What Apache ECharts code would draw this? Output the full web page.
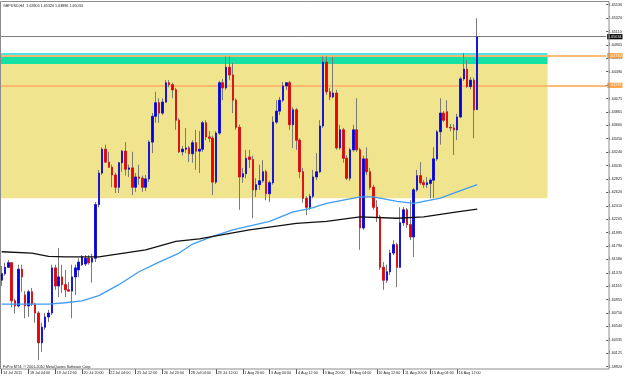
<!DOCTYPE html>
<html><head><meta charset="utf-8">
<script src="https://cdn.jsdelivr.net/npm/echarts@6/dist/echarts.min.js"></script>
<style>html,body{margin:0;padding:0;background:#fff}#c{width:625px;height:377px}</style>
</head><body><div id="c"></div>
<script>
const symbolName = 'GBPUSD,H4';
const opens = [1.6126,1.6136,1.6146,1.6153,1.6094,1.6086,1.6143,1.6103,1.6086,1.6108,
1.6089,1.6075,1.6029,1.6053,1.6069,1.6075,1.6145,1.6117,1.6131,1.6119,
1.6111,1.6109,1.6131,1.6142,1.6150,1.6151,1.6160,1.6154,1.6160,1.6243,
1.6292,1.6329,1.6309,1.6301,1.6289,1.6270,1.6308,1.6326,1.6298,1.6300,
1.6270,1.6286,1.6284,1.6270,1.6283,1.6340,1.6380,1.6401,1.6385,1.6402,
1.6432,1.6429,1.6421,1.6374,1.6325,1.6329,1.6331,1.6322,1.6339,1.6326,
1.6329,1.6370,1.6348,1.6346,1.6278,1.6354,1.6432,1.6424,1.6456,1.6444,
1.6405,1.6363,1.6286,1.6291,1.6317,1.6313,1.6266,1.6274,1.6280,1.6294,
1.6260,1.6277,1.6371,1.6388,1.6405,1.6427,1.6432,1.6367,1.6390,1.6343,
1.6294,1.6253,1.6239,1.6256,1.6286,1.6294,1.6365,1.6464,1.6418,1.6410,
1.6416,1.6331,1.6359,1.6315,1.6284,1.6328,1.6359,1.6328,1.6207,1.6314,
1.6294,1.6270,1.6239,1.6224,1.6146,1.6126,1.6139,1.6168,1.6181,1.6146,
1.6215,1.6235,1.6212,1.6193,1.6266,1.6288,1.6277,1.6274,1.6276,1.6281,
1.6314,1.6356,1.6385,1.6387,1.6363,1.6362,1.6359,1.6379,1.6438,1.6453,
1.6426,1.6436,1.63905];
const highs = [1.6148,1.6153,1.6157,1.6154,1.6097,1.6150,1.6150,1.6109,1.6111,1.6114,
1.6091,1.6078,1.6060,1.6075,1.6080,1.6150,1.6150,1.6176,1.6150,1.6142,
1.6123,1.6150,1.6150,1.6160,1.6165,1.6165,1.6165,1.6167,1.6247,1.6297,
1.6332,1.6336,1.6325,1.6305,1.6292,1.6309,1.6328,1.6340,1.6305,1.6325,
1.6292,1.6305,1.6288,1.6289,1.6343,1.6385,1.6418,1.6408,1.6408,1.6436,
1.6436,1.6432,1.6424,1.6377,1.6334,1.6362,1.6334,1.6343,1.6359,1.6357,
1.6373,1.6374,1.6357,1.6350,1.6357,1.6435,1.6438,1.6473,1.6473,1.6463,
1.6408,1.6367,1.6300,1.6328,1.6328,1.6319,1.6284,1.6305,1.6312,1.6297,
1.6280,1.6380,1.6405,1.6410,1.6433,1.6433,1.6435,1.6394,1.6393,1.6346,
1.6300,1.6256,1.6260,1.6297,1.6323,1.6374,1.6473,1.6473,1.6424,1.6472,
1.6421,1.6367,1.6362,1.6320,1.6331,1.6367,1.6408,1.6331,1.6319,1.6332,
1.6300,1.6274,1.6250,1.6227,1.6154,1.6150,1.6173,1.6188,1.6184,1.6239,
1.6239,1.6238,1.6250,1.6269,1.6297,1.6309,1.6281,1.6286,1.6284,1.6332,
1.6359,1.6408,1.6388,1.6405,1.6368,1.6368,1.6384,1.6441,1.6478,1.6467,
1.6441,1.6440,1.65320];
const lows = [1.6117,1.6133,1.6145,1.6084,1.6074,1.6084,1.6108,1.6067,1.6069,1.6086,
1.6060,1.6002,1.6015,1.6049,1.6061,1.6072,1.6111,1.6100,1.6106,1.6100,
1.6108,1.6067,1.6103,1.6131,1.6148,1.6148,1.6150,1.6122,1.6154,1.6239,
1.6289,1.6308,1.6300,1.6270,1.6261,1.6261,1.6294,1.6288,1.6286,1.6258,
1.6263,1.6274,1.6263,1.6264,1.6278,1.6323,1.6370,1.6370,1.6382,1.6401,
1.6425,1.6408,1.6359,1.6323,1.6319,1.6323,1.6309,1.6308,1.6297,1.6292,
1.6325,1.6343,1.6340,1.6258,1.6275,1.6351,1.6405,1.6421,1.6436,1.6385,
1.6359,1.6235,1.6277,1.6284,1.6300,1.6222,1.6255,1.6266,1.6277,1.6250,
1.6247,1.6274,1.6368,1.6382,1.6402,1.6421,1.6359,1.6331,1.6328,1.6284,
1.6246,1.6227,1.6235,1.6253,1.6281,1.6292,1.6362,1.6413,1.6405,1.6408,
1.6328,1.6328,1.6308,1.6281,1.6280,1.6325,1.6325,1.6173,1.6204,1.6289,
1.6266,1.6235,1.6216,1.6142,1.6111,1.6122,1.6134,1.6165,1.6115,1.6145,
1.6210,1.6207,1.6188,1.6162,1.6263,1.6274,1.6269,1.6269,1.6253,1.6253,
1.6311,1.6336,1.6371,1.6362,1.6357,1.6320,1.6343,1.6377,1.6435,1.6424,
1.6422,1.6346,1.63896];
const closes = [1.6136,1.6146,1.6153,1.6094,1.6086,1.6143,1.6131,1.6086,1.6108,1.6089,
1.6075,1.6029,1.6053,1.6069,1.6075,1.6145,1.6117,1.6131,1.6119,1.6111,
1.6109,1.6131,1.6145,1.6154,1.6162,1.6160,1.6153,1.6160,1.6243,1.6292,
1.6329,1.6309,1.6301,1.6289,1.6270,1.6308,1.6326,1.6298,1.6300,1.6270,
1.6286,1.6284,1.6270,1.6283,1.6340,1.6380,1.6401,1.6385,1.6402,1.6432,
1.6429,1.6421,1.6374,1.6325,1.6329,1.6331,1.6322,1.6339,1.6326,1.6329,
1.6370,1.6348,1.6346,1.6278,1.6354,1.6432,1.6424,1.6456,1.6444,1.6405,
1.6363,1.6286,1.6291,1.6315,1.6313,1.6266,1.6274,1.6280,1.6294,1.6260,
1.6277,1.6371,1.6388,1.6405,1.6427,1.6432,1.6367,1.6390,1.6343,1.6294,
1.6253,1.6239,1.6256,1.6286,1.6294,1.6365,1.6464,1.6418,1.6410,1.6416,
1.6331,1.6359,1.6315,1.6284,1.6328,1.6359,1.6328,1.6207,1.6314,1.6294,
1.6270,1.6239,1.6224,1.6146,1.6126,1.6139,1.6168,1.6181,1.6146,1.6215,
1.6235,1.6212,1.6193,1.6266,1.6288,1.6277,1.6274,1.6277,1.6281,1.6314,
1.6356,1.6385,1.6374,1.6363,1.6362,1.6359,1.6379,1.6438,1.6453,1.6426,
1.6436,1.6390,1.65034];
const xTickLabels = ['14 Jul 2011','18 Jul 04:00','19 Jul 12:00','20 Jul 20:00','22 Jul 04:00','25 Jul 12:00','26 Jul 20:00','28 Jul 04:00','29 Jul 12:00','1 Aug 20:00','3 Aug 04:00','4 Aug 12:00','5 Aug 20:00','9 Aug 04:00','10 Aug 12:00','11 Aug 20:00','15 Aug 04:00','16 Aug 12:00'];
const barsPerXTick = 8;
const yTickLabels = ['1.59920','1.60125','1.60335','1.60540','1.60750','1.60955','1.61165','1.61370','1.61580','1.61790','1.61995','1.62205','1.62410','1.62620','1.62825','1.63035','1.63240','1.63450','1.63660','1.63865','1.64075','1.64280','1.64490','1.64695','1.64905','1.65110','1.65320','1.65530'];
const yMin = 1.59920, yMax = 1.65530;
const maFastBars = [0,14,19,24,29,35,41,47,53,57,63,69,80,87,92,97,107,111,118,123,131,136,142];
const maFastValues = [1.6089,1.6089,1.6091,1.6094,1.6102,1.6119,1.6139,1.6154,1.6168,1.6182,1.6194,1.6204,1.6217,1.6232,1.6237,1.6245,1.6255,1.6255,1.6248,1.6245,1.6253,1.6263,1.6274];
const maSlowBars = [0,9,14,19,29,43,52,59,74,81,88,97,107,118,126,136,142];
const maSlowValues = [1.6170,1.6168,1.6163,1.6162,1.6162,1.6173,1.6186,1.6190,1.6204,1.6209,1.6214,1.6217,1.6224,1.6222,1.6224,1.6232,1.6236];
const zoneBounds = [1.6478, 1.6472, 1.6461, 1.6253];
const zoneEndBar = 163;
const levelValues = [1.6474, 1.6428];
const levelLabels = ['1.64740', '1.64283'];
const totalSlots = 181;
const copyrightText = 'FxPro MT4, \u00a9 2001-2010 MetaQuotes Software Corp.';

const n = opens.length;
const last = n - 1;
const slots = Array.from({length: totalSlots}, (_, i) => String(i));
const wickData = opens.map((o, i) => [o, closes[i], lows[i], highs[i]]);
const bodyData = opens.map((o, i) => [o, closes[i], Math.min(o, closes[i]), Math.max(o, closes[i])]);
const fmt = v => v.toFixed(5);
const titleText = symbolName + '  ' + fmt(opens[last]) + ' ' + fmt(highs[last]) + ' ' + fmt(lows[last]) + ' ' + fmt(closes[last]);
const FONT = 'Liberation Sans';
const FS = 3.7;
const isXTick = i => i % barsPerXTick === 0 && i / barsPerXTick < xTickLabels.length;
const boxLabel = (text, bg) => ({show: true, position: 'end', distance: 1, formatter: text, backgroundColor: bg, color: '#fff', fontSize: FS, fontFamily: FONT, padding: [0.6, 1]});

const chart = echarts.init(document.getElementById('c'), null, {renderer: 'canvas'});
chart.setOption({
  animation: false,
  backgroundColor: '#ffffff',
  grid: {left: 0, right: 16, top: 4.7, bottom: 10.4, containLabel: false},
  xAxis: {
    type: 'category', data: slots, boundaryGap: true, offset: 2.4,
    axisLine: {show: false},
    axisTick: {show: true, alignWithLabel: true, interval: (i) => isXTick(i), length: 5, lineStyle: {color: '#555', width: 1}},
    axisLabel: {interval: (i) => isXTick(i), formatter: (v, i) => xTickLabels[i / barsPerXTick] || '',
      fontSize: FS, fontFamily: FONT, color: '#222', align: 'left', margin: 1.5, padding: [0, 0, 0, 1.5]},
    splitLine: {show: false}
  },
  yAxis: {
    type: 'value', position: 'right', min: yMin, max: yMax, interval: (yMax - yMin) / (yTickLabels.length - 1),
    axisLine: {show: false},
    axisTick: {show: true, length: 2, lineStyle: {color: '#555'}},
    axisLabel: {formatter: (v, i) => yTickLabels[i] || '', fontSize: FS, fontFamily: FONT, color: '#222', margin: 2.5, align: 'left'},
    splitLine: {show: false}
  },
  graphic: [
    {type: 'rect', silent: true, z: 50, shape: {x: 0.5, y: 1.5, width: 608.5, height: 367.5}, style: {fill: null, stroke: '#8c8c8c', lineWidth: 1}},
    {type: 'text', silent: true, z: 60, left: 3, top: 4, style: {text: titleText, fontSize: FS, fontFamily: FONT, fill: '#222'}},
    {type: 'text', silent: true, z: 60, left: 3, top: 364.5, style: {text: copyrightText, fontSize: FS, fontFamily: FONT, fill: '#222'}}
  ],
  series: [
    {
      type: 'line', data: [], z: 1,
      markArea: {silent: true, z: 1, data: [
        [{yAxis: zoneBounds[0], itemStyle: {color: '#50e4ea'}}, {xAxis: zoneEndBar, yAxis: zoneBounds[1]}],
        [{yAxis: zoneBounds[1], itemStyle: {color: '#14e2a2'}}, {xAxis: zoneEndBar, yAxis: zoneBounds[2]}],
        [{yAxis: zoneBounds[2], itemStyle: {color: '#f1e48f'}}, {xAxis: zoneEndBar, yAxis: zoneBounds[3]}]
      ]},
      markLine: {silent: true, z: 1.5, symbol: 'none', precision: 5, animation: false,
        data: [
          {yAxis: levelValues[0], lineStyle: {color: '#ffb468', width: 2, type: 'solid', opacity: 0.9}, label: boxLabel(levelLabels[0], '#ff9a30')},
          {yAxis: levelValues[1], lineStyle: {color: '#ffb468', width: 2, type: 'solid', opacity: 0.9}, label: boxLabel(levelLabels[1], '#ff9a30')},
          {yAxis: closes[last], lineStyle: {color: '#808080', width: 1, type: 'solid'}, label: boxLabel(fmt(closes[last]), '#000000')}
        ]}
    },
    {
      type: 'candlestick', name: 'wicks', data: wickData, barWidth: 2, z: 2,
      itemStyle: {color: '#7a7a7a', color0: '#7a7a7a', borderColor: '#7a7a7a', borderColor0: '#7a7a7a', borderColorDoji: '#7a7a7a', borderWidth: 1}
    },
    {
      type: 'candlestick', name: 'bodies', data: bodyData, barWidth: 2, z: 3,
      itemStyle: {color: '#0000f0', color0: '#f00000', borderColor: '#0000f0', borderColor0: '#f00000', borderColorDoji: '#f00000', borderWidth: 0.6}
    },
    {
      type: 'line', name: 'MA fast', z: 4, symbol: 'none', data: maFastBars.map((b, i) => [b, maFastValues[i]]),
      lineStyle: {color: '#3f9cf2', width: 1.3}
    },
    {
      type: 'line', name: 'MA slow', z: 4, symbol: 'none', data: maSlowBars.map((b, i) => [b, maSlowValues[i]]),
      lineStyle: {color: '#111111', width: 1.3}
    }
  ]
});
</script>
</body></html>
